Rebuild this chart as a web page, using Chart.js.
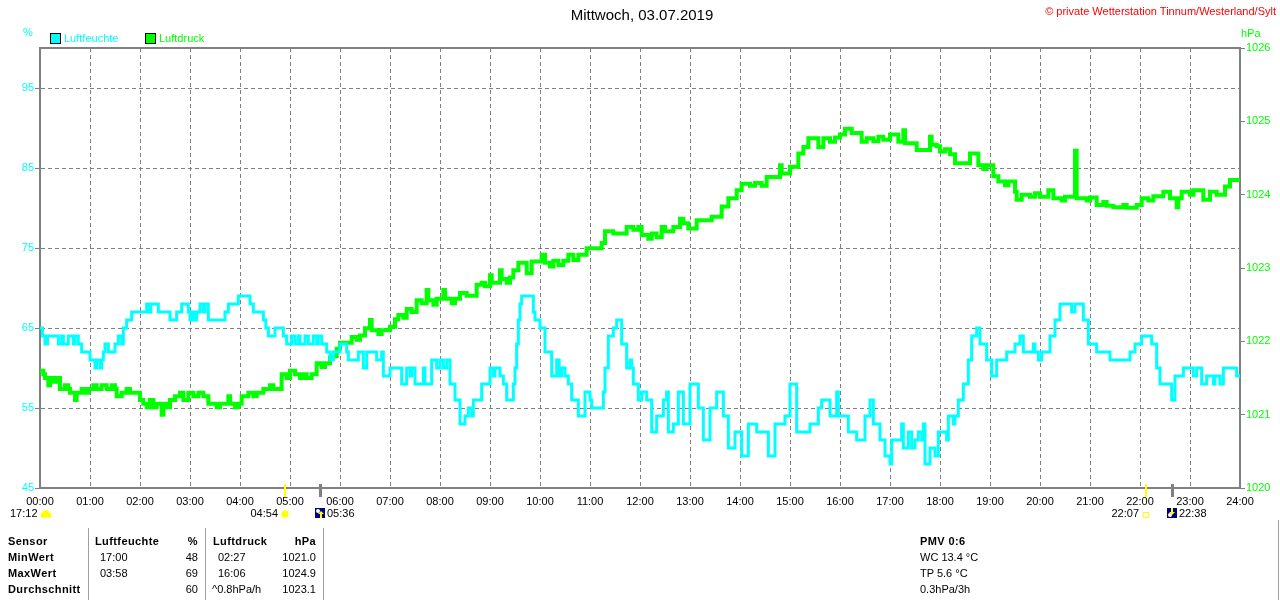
<!DOCTYPE html>
<html>
<head>
<meta charset="utf-8">
<title>Mittwoch, 03.07.2019</title>
<script src="https://cdn.jsdelivr.net/npm/chart.js@4.4.1/dist/chart.umd.min.js"></script>
<style>
  body { margin: 0; background: #fff; font-family: 'Liberation Sans', Arial, sans-serif; font-size: 11px; color: #000; }
  #wrap { position: relative; width: 1280px; height: 600px; overflow: hidden; }
  #chart { position: absolute; left: 0; top: 0; }
  .t { position: absolute; white-space: nowrap; line-height: 13px; }
  .b { font-weight: bold; letter-spacing: 0.4px; }
  .vline { position: absolute; width: 1px; background: #a0a0a0; }
  .box { position: absolute; width: 9px; height: 9px; border: 1px solid #000; }
</style>
</head>
<body>
<div id="wrap">
  <canvas id="chart" width="1280" height="600"></canvas>

  <div class="t" style="left:0; width:1284px; top:6px; text-align:center; font-size:15px; line-height:18px;">Mittwoch, 03.07.2019</div>
  <div class="t" style="right:4px; top:5px; color:#ff0000;">© private Wetterstation Tinnum/Westerland/Sylt</div>

  <div class="t" style="left:23px; top:26px; color:#00ffff;">%</div>
  <div class="t" style="left:1241px; top:27px; color:#00ff00;">hPa</div>

  <div class="box" style="left:50px; top:33px; background:#00ffff;"></div>
  <div class="t" style="left:64px; top:32px; color:#00ffff;">Luftfeuchte</div>
  <div class="box" style="left:145px; top:33px; background:#00ff00;"></div>
  <div class="t" style="left:159px; top:32px; color:#00ff00;">Luftdruck</div>

  <!-- Statistics table -->
  <div class="vline" style="left:88px; top:528px; height:72px;"></div>
  <div class="vline" style="left:205px; top:528px; height:72px;"></div>
  <div class="vline" style="left:323px; top:528px; height:72px;"></div>
  <div class="vline" style="left:1278px; top:520px; height:80px;"></div>

  <div class="t b" style="left:8px; top:535px;">Sensor</div>
  <div class="t b" style="left:95px; top:535px;">Luftfeuchte</div>
  <div class="t b" style="right:1082px; top:535px;">%</div>
  <div class="t b" style="left:213px; top:535px;">Luftdruck</div>
  <div class="t b" style="right:964px; top:535px;">hPa</div>

  <div class="t b" style="left:8px; top:551px;">MinWert</div>
  <div class="t" style="left:100px; top:551px;">17:00</div>
  <div class="t" style="right:1082px; top:551px;">48</div>
  <div class="t" style="left:218px; top:551px;">02:27</div>
  <div class="t" style="right:964px; top:551px;">1021.0</div>

  <div class="t b" style="left:8px; top:567px;">MaxWert</div>
  <div class="t" style="left:100px; top:567px;">03:58</div>
  <div class="t" style="right:1082px; top:567px;">69</div>
  <div class="t" style="left:218px; top:567px;">16:06</div>
  <div class="t" style="right:964px; top:567px;">1024.9</div>

  <div class="t b" style="left:8px; top:583px;">Durchschnitt</div>
  <div class="t" style="right:1082px; top:583px;">60</div>
  <div class="t" style="left:212px; top:583px;">^0.8hPa/h</div>
  <div class="t" style="right:964px; top:583px;">1023.1</div>

  <div class="t b" style="left:920px; top:535px;">PMV 0:6</div>
  <div class="t" style="left:920px; top:551px;">WC 13.4 °C</div>
  <div class="t" style="left:920px; top:567px;">TP 5.6 °C</div>
  <div class="t" style="left:920px; top:583px;">0.3hPa/3h</div>
</div>

<script>
'use strict'

//------------------Data (minutes after midnight)----------------------//
var hourLabels = ['00:00', '01:00', '02:00', '03:00', '04:00', '05:00', '06:00', '07:00', '08:00',
  '09:00', '10:00', '11:00', '12:00', '13:00', '14:00', '15:00', '16:00', '17:00', '18:00',
  '19:00', '20:00', '21:00', '22:00', '23:00', '24:00'];
var humTicks = [45, 55, 65, 75, 85, 95];
var pressTicks = [1020, 1021, 1022, 1023, 1024, 1025, 1026];

// Luftfeuchte (%)
var humTimes = [
  0, 3, 6, 9, 22, 26, 28, 34, 40, 42, 46, 50,
  60, 66, 68, 72, 74, 76, 78, 82, 90, 94, 98, 100,
  104, 110, 128, 131, 133, 142, 156, 164, 170, 178, 180, 183,
  185, 188, 192, 196, 198, 202, 222, 226, 238, 252, 256, 268,
  271, 274, 282, 292, 296, 302, 306, 310, 312, 318, 322, 328,
  332, 334, 338, 344, 348, 352, 360, 368, 370, 382, 388, 392,
  404, 410, 412, 420, 434, 440, 444, 446, 450, 460, 462, 470,
  476, 480, 484, 488, 492, 498, 504, 510, 514, 518, 520, 530,
  540, 544, 546, 552, 556, 560, 568, 570, 572, 574, 576, 578,
  592, 594, 600, 606, 614, 620, 623, 626, 630, 634, 638, 646,
  654, 660, 662, 676, 678, 682, 688, 692, 698, 704, 708, 710,
  712, 718, 722, 728, 734, 740, 748, 752, 754, 760, 766, 772,
  780, 790, 796, 804, 812, 820, 826, 834, 842, 850, 860, 874,
  882, 894, 900, 908, 924, 934, 938, 948, 956, 958, 970, 980,
  990, 996, 1000, 1008, 1014, 1020, 1022, 1034, 1036, 1042, 1046, 1050,
  1054, 1058, 1060, 1062, 1068, 1074, 1078, 1088, 1090, 1096, 1098, 1102,
  1108, 1114, 1118, 1124, 1128, 1136, 1142, 1148, 1160, 1170, 1176, 1180,
  1192, 1194, 1198, 1202, 1212, 1218, 1224, 1238, 1242, 1252, 1258, 1268,
  1284, 1308, 1314, 1322, 1334, 1340, 1344, 1358, 1362, 1372, 1384, 1388,
  1394, 1400, 1408, 1410, 1416, 1420, 1436, 1440];
var humValues = [
  65, 64, 63, 64, 63, 64, 63, 64, 63, 64, 63, 62,
  61, 60, 61, 60, 61, 62, 63, 62, 63, 64, 63, 65,
  66, 67, 68, 67, 68, 67, 66, 67, 68, 67, 66, 67,
  66, 67, 68, 67, 68, 66, 67, 68, 69, 68, 67, 66,
  65, 64, 65, 64, 63, 64, 63, 64, 63, 64, 63, 64,
  63, 64, 63, 62, 61, 62, 63, 62, 61, 62, 60, 62,
  61, 62, 59, 60, 58, 60, 59, 60, 58, 60, 58, 61,
  60, 61, 60, 61, 58, 56, 53, 54, 55, 54, 56, 58,
  60, 59, 60, 59, 58, 56, 58, 60, 63, 66, 68, 69,
  67, 66, 65, 62, 59, 61, 59, 60, 59, 58, 56, 54,
  57, 56, 55, 57, 60, 64, 65, 66, 63, 60, 61, 60,
  58, 56, 57, 56, 52, 54, 56, 57, 52, 53, 57, 53,
  58, 55, 51, 55, 57, 54, 50, 52, 49, 53, 52, 49,
  53, 54, 58, 52, 53, 55, 56, 54, 57, 54, 52, 51,
  54, 56, 53, 51, 49, 48, 51, 53, 50, 52, 50, 51,
  52, 51, 53, 48, 50, 49, 52, 51, 54, 53, 54, 56,
  58, 61, 64, 65, 63, 61, 59, 61, 62, 63, 64, 62,
  63, 62, 61, 62, 64, 66, 68, 67, 68, 66, 63, 62,
  61, 62, 63, 64, 63, 60, 58, 56, 59, 60, 59, 60,
  58, 59, 58, 59, 58, 60, 59, 59];

// Luftdruck (hPa)
var pressTimes = [
  0, 4, 6, 10, 12, 16, 20, 24, 30, 34, 36, 42,
  44, 50, 54, 58, 64, 68, 74, 80, 86, 90, 92, 98,
  104, 108, 120, 124, 128, 132, 136, 140, 146, 148, 152, 156,
  162, 168, 172, 178, 184, 190, 196, 202, 212, 216, 226, 228,
  234, 238, 242, 250, 256, 260, 268, 276, 280, 290, 296, 300,
  306, 312, 316, 320, 326, 332, 338, 342, 348, 352, 356, 360,
  374, 380, 384, 390, 396, 398, 406, 410, 420, 426, 430, 436,
  440, 446, 452, 458, 464, 466, 472, 476, 484, 486, 494, 498,
  504, 512, 524, 530, 534, 540, 542, 552, 554, 560, 564, 568,
  574, 584, 590, 602, 606, 612, 616, 622, 628, 634, 640, 646,
  656, 674, 678, 688, 704, 712, 718, 722, 730, 734, 740, 746,
  750, 760, 768, 772, 778, 788, 806, 818, 826, 836, 842, 852,
  858, 866, 872, 888, 890, 900, 910, 916, 922, 934, 940, 948,
  954, 960, 966, 974, 986, 992, 1000, 1006, 1012, 1020, 1030, 1036,
  1038, 1052, 1068, 1070, 1076, 1080, 1086, 1092, 1098, 1116, 1126, 1132,
  1136, 1144, 1150, 1158, 1162, 1170, 1172, 1178, 1188, 1194, 1200, 1210,
  1216, 1226, 1230, 1242, 1244, 1256, 1260, 1268, 1276, 1280, 1288, 1300,
  1304, 1316, 1322, 1330, 1336, 1348, 1356, 1364, 1366, 1370, 1380, 1384,
  1396, 1404, 1412, 1422, 1428, 1440];
var pressValues = [
  1021.6, 1021.55, 1021.5, 1021.4, 1021.5, 1021.45, 1021.5, 1021.35, 1021.4, 1021.35, 1021.3, 1021.2,
  1021.3, 1021.35, 1021.3, 1021.35, 1021.4, 1021.35, 1021.4, 1021.35, 1021.4, 1021.35, 1021.25, 1021.3,
  1021.35, 1021.3, 1021.2, 1021.15, 1021.1, 1021.2, 1021.1, 1021.15, 1021.0, 1021.15, 1021.1, 1021.2,
  1021.25, 1021.3, 1021.2, 1021.3, 1021.25, 1021.3, 1021.25, 1021.15, 1021.1, 1021.15, 1021.25, 1021.15,
  1021.1, 1021.15, 1021.25, 1021.3, 1021.25, 1021.3, 1021.35, 1021.4, 1021.35, 1021.55, 1021.5, 1021.6,
  1021.55, 1021.5, 1021.55, 1021.5, 1021.55, 1021.7, 1021.65, 1021.7, 1021.78, 1021.8, 1021.9, 1021.98,
  1022.06, 1022.02, 1022.08, 1022.18, 1022.29, 1022.15, 1022.1, 1022.15, 1022.2, 1022.3, 1022.36, 1022.32,
  1022.44, 1022.4, 1022.56, 1022.52, 1022.7, 1022.56, 1022.5, 1022.58, 1022.7, 1022.58, 1022.52, 1022.58,
  1022.66, 1022.62, 1022.77, 1022.8, 1022.75, 1022.9, 1022.8, 1022.97, 1022.85, 1022.8, 1022.87, 1022.97,
  1023.07, 1022.93, 1023.09, 1023.18, 1023.07, 1023.02, 1023.1, 1023.04, 1023.1, 1023.18, 1023.11, 1023.18,
  1023.27, 1023.34, 1023.5, 1023.47, 1023.56, 1023.52, 1023.56, 1023.45, 1023.4, 1023.47, 1023.42, 1023.56,
  1023.5, 1023.56, 1023.67, 1023.61, 1023.54, 1023.65, 1023.7, 1023.84, 1023.95, 1024.06, 1024.15, 1024.12,
  1024.16, 1024.12, 1024.24, 1024.4, 1024.29, 1024.38, 1024.56, 1024.65, 1024.77, 1024.65, 1024.77, 1024.72,
  1024.78, 1024.82, 1024.9, 1024.84, 1024.72, 1024.77, 1024.73, 1024.79, 1024.75, 1024.82, 1024.72, 1024.88,
  1024.7, 1024.61, 1024.79, 1024.68, 1024.66, 1024.59, 1024.62, 1024.55, 1024.43, 1024.56, 1024.4, 1024.35,
  1024.4, 1024.25, 1024.18, 1024.13, 1024.18, 1024.04, 1023.93, 1024.0, 1023.97, 1024.02, 1023.97, 1024.06,
  1023.95, 1023.92, 1023.97, 1024.6, 1023.95, 1023.92, 1023.96, 1023.86, 1023.9, 1023.85, 1023.83, 1023.86,
  1023.82, 1023.86, 1023.95, 1023.92, 1023.98, 1024.04, 1023.95, 1023.83, 1023.95, 1024.04, 1024.0, 1024.06,
  1023.93, 1024.04, 1024.0, 1024.11, 1024.2, 1024.2];

// Sun and moon events shown under the time axis
var sunTimes = ['04:54', '22:07'];
var moonTimes = ['05:36', '22:38'];
var moonsetLeft = '17:12';

var GRID = '#808080';
var FONT = "'Liberation Sans', Arial, sans-serif";

function toMinutes(hhmm) {
  var p = hhmm.split(':');
  return Number(p[0]) * 60 + Number(p[1]);
}

function toPoints(times, values) {
  let pts = [];
  for (let i = 0; i < times.length; i++) {
    pts.push({ x: times[i], y: values[i] });
  }
  return pts;
}

//------------------Frame + sun/moon marker plugin----------------------//
var markerPlugin = {
  id: 'markers',
  afterDraw: function(chart) {
    let ctx = chart.ctx;
    let area = chart.chartArea;
    let xs = chart.scales.x;
    ctx.save();

    // top border of the plot
    ctx.strokeStyle = GRID;
    ctx.lineWidth = 2;
    ctx.beginPath();
    ctx.moveTo(area.left - 1, area.top);
    ctx.lineTo(area.right + 1, area.top);
    ctx.stroke();

    ctx.font = '11px ' + FONT;
    ctx.textBaseline = 'middle';
    ctx.fillStyle = '#000';

    // left "17:12" with cloud
    ctx.textAlign = 'left';
    ctx.fillText(moonsetLeft, 10, 514);
    ctx.fillStyle = '#ffff00';
    ctx.beginPath();
    ctx.arc(43, 515, 2.5, 0, Math.PI * 2);
    ctx.arc(46, 513, 3, 0, Math.PI * 2);
    ctx.arc(49, 515, 2.5, 0, Math.PI * 2);
    ctx.fill();
    ctx.fillRect(41, 515, 10, 2.5);

    // sunrise / sunset
    for (let i = 0; i < sunTimes.length; i++) {
      let x = Math.round(xs.getPixelForValue(toMinutes(sunTimes[i])));
      ctx.fillStyle = '#ffff00';
      ctx.fillRect(x - 1, area.bottom - 4, 2, 13);
      if (i === 0) {
        ctx.beginPath();
        ctx.arc(x, 514, 3.5, 0, Math.PI * 2);
        ctx.fill();
        ctx.strokeStyle = '#ffff80';
        ctx.lineWidth = 1;
        for (let a = 0; a < 8; a++) {
          let ang = a * Math.PI / 4;
          ctx.beginPath();
          ctx.moveTo(x + Math.cos(ang) * 4.5, 514 + Math.sin(ang) * 4.5);
          ctx.lineTo(x + Math.cos(ang) * 6.5, 514 + Math.sin(ang) * 6.5);
          ctx.stroke();
        }
      } else {
        ctx.strokeStyle = '#ffff00';
        ctx.lineWidth = 1;
        ctx.strokeRect(x - 2.5, 512.5, 5, 5);
      }
      ctx.fillStyle = '#000';
      ctx.textAlign = 'right';
      ctx.fillText(sunTimes[i], x - 7, 514);
    }

    // moonrise / moonset
    for (let i = 0; i < moonTimes.length; i++) {
      let x = Math.round(xs.getPixelForValue(toMinutes(moonTimes[i])));
      ctx.fillStyle = GRID;
      ctx.fillRect(x - 1, area.bottom - 4, 3, 13);
      ctx.fillStyle = '#000080';
      ctx.fillRect(x - 5, 508, 10, 10);
      ctx.fillStyle = '#ffffff';
      ctx.beginPath();
      ctx.arc(x - 2, i === 0 ? 511 : 515, 2, 0, Math.PI * 2);
      ctx.fill();
      // arrow
      ctx.fillStyle = '#ffff00';
      ctx.beginPath();
      if (i === 0) {
        ctx.moveTo(x + 1, 511); ctx.lineTo(x - 2, 514); ctx.lineTo(x + 4, 514);
        ctx.fill();
        ctx.fillRect(x, 514, 2, 4);
      } else {
        ctx.fillRect(x - 1, 508, 2, 4);
        ctx.moveTo(x, 515); ctx.lineTo(x - 3, 512); ctx.lineTo(x + 3, 512);
        ctx.fill();
      }
      ctx.fillStyle = '#000';
      ctx.textAlign = 'left';
      ctx.fillText(moonTimes[i], x + 7, 514);
    }
    ctx.restore();
  }
};

//---------------------Chart--------------------//
Chart.defaults.font.family = FONT;
Chart.defaults.font.size = 11;

var ctx = document.getElementById('chart').getContext('2d');

var weatherChart = new Chart(ctx, {
  type: 'line',
  data: {
    datasets: [{
      label: 'Luftfeuchte',
      data: toPoints(humTimes, humValues),
      yAxisID: 'yHum',
      borderColor: '#00ffff',
      borderWidth: 3,
      stepped: true,
      pointRadius: 0,
      fill: false
    }, {
      label: 'Luftdruck',
      data: toPoints(pressTimes, pressValues),
      yAxisID: 'yPress',
      borderColor: '#00ff00',
      borderWidth: 4,
      stepped: true,
      pointRadius: 0,
      fill: false
    }]
  },
  options: {
    responsive: false,
    animation: false,
    parsing: false,
    layout: { padding: { top: 48, bottom: 82, left: 0, right: 0 } },
    plugins: {
      legend: { display: false },
      tooltip: { enabled: false }
    },
    scales: {
      x: {
        type: 'linear',
        min: 0,
        max: 1440,
        afterFit: function(scale) { scale.height = 30; },
        afterBuildTicks: function(scale) {
          scale.ticks = hourLabels.map(function(l, i) { return { value: i * 60 }; });
        },
        ticks: {
          autoSkip: false,
          maxRotation: 0,
          padding: 7,
          color: '#000',
          callback: function(v) { return hourLabels[Math.round(v / 60)]; }
        },
        grid: {
          drawTicks: false,
          lineWidth: 1,
          color: function(c) {
            if (c.tick && (c.tick.value === 0 || c.tick.value === 1440)) return 'rgba(0,0,0,0)';
            return GRID;
          }
        },
        border: { display: true, color: GRID, width: 2, dash: [4, 3] }
      },
      yHum: {
        type: 'linear',
        position: 'left',
        min: 45,
        max: 100,
        afterFit: function(scale) { scale.width = 40; },
        afterBuildTicks: function(scale) {
          scale.ticks = humTicks.map(function(v) { return { value: v }; });
        },
        ticks: {
          color: '#00ffff',
          padding: 1,
          callback: function(v) { return String(v); }
        },
        grid: {
          tickLength: 5,
          tickColor: GRID,
          tickBorderDash: [],
          lineWidth: 1,
          color: function(c) {
            if (c.tick && c.tick.value === 45) return 'rgba(0,0,0,0)';
            return GRID;
          }
        },
        border: { display: true, color: GRID, width: 2, dash: [4, 3] }
      },
      yPress: {
        type: 'linear',
        position: 'right',
        min: 1020,
        max: 1026,
        afterFit: function(scale) { scale.width = 40; },
        afterBuildTicks: function(scale) {
          scale.ticks = pressTicks.map(function(v) { return { value: v }; });
        },
        ticks: {
          color: '#00ff00',
          padding: 1,
          callback: function(v) { return String(v); }
        },
        grid: {
          drawOnChartArea: false,
          tickLength: 5,
          tickColor: GRID,
          tickBorderDash: []
        },
        border: { display: true, color: GRID, width: 2 }
      }
    }
  },
  plugins: [markerPlugin]
});
</script>
</body>
</html>
